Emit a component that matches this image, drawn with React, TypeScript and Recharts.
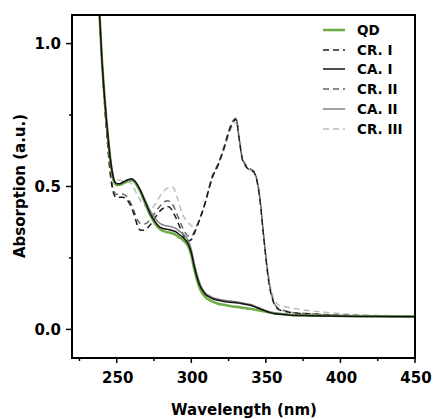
import React from 'react';
import { LineChart, Line, XAxis, YAxis } from 'recharts';

const FONT = '"DejaVu Sans", Verdana, sans-serif';

// wavelength grid (nm), shared by every spectrum
const WAVELENGTH = [
  234, 236, 238, 240, 242, 244, 246, 248, 250, 252,
  254, 256, 258, 260, 262, 264, 266, 268, 270, 272,
  274, 276, 278, 280, 282, 284, 286, 288, 290, 292,
  294, 296, 298, 300, 302, 304, 306, 308, 310, 312,
  314, 318, 322, 326, 328, 330, 332, 334, 336, 338,
  340, 342, 344, 346, 348, 350, 352, 354, 356, 358,
  362, 366, 370, 380, 390, 400, 420, 450,
];

const QD = [
  1.6, 1.35, 1.15, 0.95, 0.8, 0.68, 0.58, 0.52, 0.505, 0.505,
  0.51, 0.515, 0.52, 0.522, 0.515, 0.5, 0.48, 0.455, 0.43, 0.405,
  0.385, 0.368, 0.355, 0.347, 0.343, 0.34, 0.338, 0.335, 0.33, 0.322,
  0.315, 0.305, 0.29, 0.26, 0.21, 0.17, 0.14, 0.122, 0.11, 0.104,
  0.098, 0.09, 0.086, 0.082, 0.08, 0.079, 0.078, 0.076, 0.075, 0.073,
  0.072, 0.07, 0.068, 0.066, 0.064, 0.062, 0.06, 0.058, 0.056, 0.055,
  0.053, 0.051, 0.05, 0.049, 0.048, 0.047, 0.046, 0.045,
];

const CR_I = [
  1.6, 1.35, 1.15, 0.95, 0.78, 0.64, 0.53, 0.475, 0.46, 0.462,
  0.462, 0.458, 0.445, 0.425, 0.395, 0.362, 0.347, 0.347, 0.353, 0.363,
  0.377, 0.393, 0.408, 0.419, 0.427, 0.43, 0.425, 0.408, 0.387, 0.362,
  0.338, 0.318, 0.31, 0.314, 0.335, 0.362, 0.39, 0.42, 0.455, 0.495,
  0.53, 0.575, 0.635, 0.703, 0.725, 0.735, 0.67, 0.6, 0.575, 0.562,
  0.556, 0.55, 0.52, 0.455, 0.35, 0.25, 0.165, 0.113, 0.085, 0.072,
  0.064, 0.06, 0.057, 0.054, 0.051, 0.049, 0.047, 0.046,
];

const CA_I = [
  1.6, 1.35, 1.15, 0.95, 0.8, 0.68, 0.585, 0.525, 0.51, 0.51,
  0.515, 0.52, 0.525, 0.527, 0.52, 0.505, 0.485, 0.46, 0.435, 0.41,
  0.39, 0.375, 0.362, 0.355, 0.352, 0.35, 0.348, 0.345, 0.34, 0.332,
  0.324, 0.314, 0.298, 0.268, 0.22, 0.18, 0.15, 0.132, 0.12, 0.114,
  0.108, 0.102, 0.098, 0.095, 0.094, 0.093, 0.092, 0.09, 0.088, 0.086,
  0.084, 0.08, 0.076, 0.072, 0.068, 0.064, 0.06, 0.057, 0.055, 0.054,
  0.052, 0.05, 0.049, 0.048, 0.047, 0.046, 0.045, 0.044,
];

const CR_II = [
  1.6, 1.35, 1.15, 0.95, 0.78, 0.645, 0.54, 0.485, 0.472, 0.475,
  0.474, 0.468, 0.455, 0.435, 0.408, 0.382, 0.37, 0.368, 0.372, 0.382,
  0.396, 0.41, 0.425, 0.437, 0.446, 0.45, 0.446, 0.432, 0.408, 0.383,
  0.358, 0.338, 0.327, 0.326, 0.342, 0.366, 0.393, 0.423, 0.458, 0.498,
  0.535, 0.58, 0.64, 0.708, 0.73, 0.74, 0.675, 0.605, 0.58, 0.566,
  0.56, 0.553, 0.525, 0.46, 0.355, 0.255, 0.17, 0.118, 0.088, 0.075,
  0.066, 0.061, 0.058, 0.055, 0.052, 0.05, 0.048, 0.047,
];

const CA_II = [
  1.6, 1.35, 1.15, 0.95, 0.8, 0.68, 0.585, 0.525, 0.51, 0.51,
  0.513, 0.518, 0.522, 0.523, 0.518, 0.505, 0.487, 0.465, 0.442, 0.42,
  0.402, 0.387, 0.375, 0.368, 0.364, 0.362, 0.36, 0.357, 0.352, 0.344,
  0.336, 0.326, 0.31, 0.28, 0.23, 0.19, 0.158, 0.138, 0.125, 0.118,
  0.112, 0.106, 0.102, 0.099, 0.098, 0.097, 0.095, 0.093, 0.091, 0.089,
  0.087, 0.083, 0.079, 0.075, 0.07, 0.066, 0.062, 0.059, 0.057, 0.056,
  0.054, 0.052, 0.05, 0.049, 0.048, 0.047, 0.046, 0.045,
];

const CR_III = [
  1.6, 1.35, 1.15, 0.95, 0.8, 0.68, 0.59, 0.535, 0.525, 0.522,
  0.52, 0.52, 0.517, 0.508, 0.49, 0.468, 0.45, 0.437, 0.427, 0.422,
  0.425, 0.44, 0.458, 0.474, 0.486, 0.494, 0.5, 0.496, 0.47, 0.435,
  0.405, 0.385, 0.372, 0.363, 0.357, 0.365, 0.39, 0.42, 0.455, 0.495,
  0.53, 0.575, 0.63, 0.695, 0.715, 0.725, 0.665, 0.6, 0.575, 0.562,
  0.556, 0.55, 0.522, 0.46, 0.36, 0.265, 0.18, 0.128, 0.1, 0.088,
  0.08, 0.076, 0.072, 0.065, 0.06, 0.055, 0.05, 0.047,
];

const X_DOMAIN = [220, 450];
const Y_DOMAIN = [-0.1, 1.1];
const X_TICKS = [225, 250, 275, 300, 325, 350, 375, 400, 425, 450];
const Y_TICKS = [0, 0.25, 0.5, 0.75, 1.0];

// legend order
const SERIES = [
  { key: 'qd', name: 'QD', values: QD, color: '#6fae45', width: 2.6, dash: undefined },
  { key: 'cr1', name: 'CR. I', values: CR_I, color: '#1c1c1c', width: 1.5, dash: '6 4' },
  { key: 'ca1', name: 'CA. I', values: CA_I, color: '#111111', width: 1.5, dash: undefined },
  { key: 'cr2', name: 'CR. II', values: CR_II, color: '#666666', width: 1.5, dash: '6 4' },
  { key: 'ca2', name: 'CA. II', values: CA_II, color: '#808080', width: 1.5, dash: undefined },
  { key: 'cr3', name: 'CR. III', values: CR_III, color: '#bdbdbd', width: 1.5, dash: '6 4' },
];

// drawing order (bottom first)
const DRAW_ORDER = ['cr3', 'cr2', 'cr1', 'qd', 'ca2', 'ca1'];

const data = WAVELENGTH.map((w, i) => {
  const row: Record<string, number> = { w };
  SERIES.forEach((s) => {
    row[s.key] = s.values[i];
  });
  return row;
});

// plot box in page pixels
const PLOT = { left: 72, top: 15, right: 415, bottom: 358 };

function XTick({ x, y, payload }: any) {
  const major = payload.value % 50 === 0;
  return (
    <g>
      <line x1={x} x2={x} y1={y} y2={y + (major ? 5 : 3)} stroke="#000" strokeWidth={1.5} />
      {major && (
        <text x={x + 1} y={y + 25} textAnchor="middle" fontFamily={FONT} fontWeight={700} fontSize={15} fill="#000">
          {payload.value}
        </text>
      )}
    </g>
  );
}

function YTick({ x, y, payload }: any) {
  const v = payload.value;
  const major = Math.abs(v * 2 - Math.round(v * 2)) < 1e-6;
  return (
    <g>
      <line x1={x} x2={x - (major ? 6 : 3)} y1={y} y2={y} stroke="#000" strokeWidth={1.5} />
      {major && (
        <text x={x - 11} y={y + 5.5} textAnchor="end" fontFamily={FONT} fontWeight={700} fontSize={15} fill="#000">
          {v.toFixed(1)}
        </text>
      )}
    </g>
  );
}

function LegendBox() {
  return (
    <div
      style={{
        position: 'absolute',
        left: 323,
        top: 20,
        fontFamily: FONT,
        fontWeight: 700,
        fontSize: 13.5,
        color: '#000',
      }}
    >
      {SERIES.map((s) => (
        <div key={s.key} style={{ display: 'flex', alignItems: 'center', height: 19.8 }}>
          <svg width={34} height={10} style={{ display: 'block' }}>
            <line x1={0} x2={22} y1={5} y2={5} stroke={s.color} strokeWidth={s.width} strokeDasharray={s.dash} />
          </svg>
          <span style={{ whiteSpace: 'nowrap' }}>{s.name}</span>
        </div>
      ))}
    </div>
  );
}

export default function App() {
  return (
    <div style={{ position: 'absolute', left: 0, top: 0, width: 434, height: 419, background: '#fff' }}>
      <LineChart width={434} height={419} data={data} margin={{ top: 15, right: 19, bottom: 0, left: 0 }}>
        <XAxis
          dataKey="w"
          type="number"
          domain={X_DOMAIN}
          allowDataOverflow
          ticks={X_TICKS}
          tick={<XTick />}
          tickLine={false}
          axisLine={false}
          tickSize={0}
          tickMargin={0}
          height={61}
          interval={0}
        />
        <YAxis
          type="number"
          domain={Y_DOMAIN}
          allowDataOverflow
          ticks={Y_TICKS}
          tick={<YTick />}
          tickLine={false}
          axisLine={false}
          tickSize={0}
          tickMargin={0}
          width={72}
          interval={0}
        />
        {DRAW_ORDER.map((k) => {
          const s = SERIES.find((ss) => ss.key === k)!;
          return (
            <Line
              key={s.key}
              dataKey={s.key}
              name={s.name}
              type="monotone"
              stroke={s.color}
              strokeWidth={s.width}
              strokeDasharray={s.dash}
              dot={false}
              activeDot={false}
              isAnimationActive={false}
            />
          );
        })}
      </LineChart>
      <LegendBox />
      <div
        style={{
          position: 'absolute',
          left: 20,
          top: 186,
          transform: 'translate(-50%, -50%) rotate(-90deg)',
          fontFamily: FONT,
          fontWeight: 700,
          fontSize: 15,
          whiteSpace: 'nowrap',
          lineHeight: 1,
        }}
      >
        Absorption (a.u.)
      </div>
      <div
        style={{
          position: 'absolute',
          left: 244,
          top: 410,
          transform: 'translate(-50%, -50%)',
          fontFamily: FONT,
          fontWeight: 700,
          fontSize: 15,
          whiteSpace: 'nowrap',
          lineHeight: 1,
        }}
      >
        Wavelength (nm)
      </div>
      {/* frame around the plot, drawn last */}
      <svg width={434} height={419} style={{ position: 'absolute', left: 0, top: 0, pointerEvents: 'none' }}>
        <line x1={PLOT.left - 1} x2={PLOT.right + 1} y1={PLOT.top} y2={PLOT.top} stroke="#000" strokeWidth={2} />
        <line x1={PLOT.right} x2={PLOT.right} y1={PLOT.top} y2={PLOT.bottom} stroke="#000" strokeWidth={2} />
        <line x1={PLOT.left} x2={PLOT.left} y1={PLOT.top} y2={PLOT.bottom} stroke="#000" strokeWidth={2} />
        <line x1={PLOT.left - 1} x2={PLOT.right + 1} y1={PLOT.bottom} y2={PLOT.bottom} stroke="#000" strokeWidth={2} />
      </svg>
    </div>
  );
}
